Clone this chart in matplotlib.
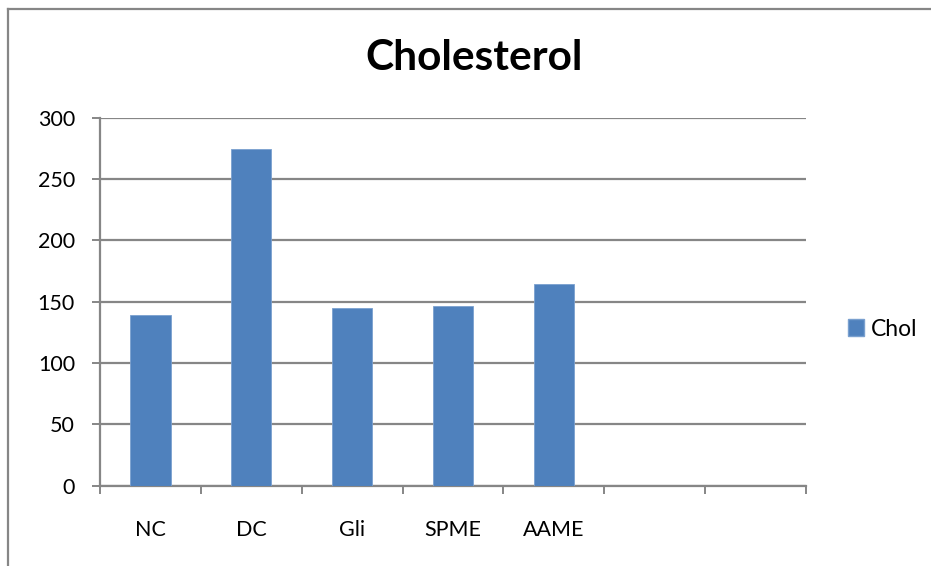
import matplotlib.pyplot as plt
from matplotlib.lines import Line2D
from matplotlib.patches import Patch

# cholesterol per group
categories = ['NC', 'DC', 'Gli', 'SPME', 'AAME', '', '']
chol = [139.2, 274.2, 144.6, 146.2, 164.7]
yticks = [0, 50, 100, 150, 200, 250, 300]

bar_color = '#4F81BD'
grid_color = '#868686'

plt.rcParams['font.family'] = ['Lato', 'DejaVu Sans']

fig = plt.figure(figsize=(9.31, 5.66), dpi=100)
ax = fig.add_axes([100 / 931, 1 - 485.7 / 566, 706 / 931, 368 / 566])

pos = list(range(len(categories)))
ax.bar(pos[:len(chol)], chol, width=0.4, color=bar_color,
       edgecolor='#7aa0cf', linewidth=0.6, zorder=3, label='Chol')

ax.set_xlim(-0.5, len(categories) - 0.5)
ax.set_ylim(0, 300)
ax.set_yticks(yticks)
ax.yaxis.grid(True, color=grid_color, linewidth=1.6)
ax.set_axisbelow(True)

# labels centred in each slot, tick marks on slot boundaries
ax.set_xticks(pos)
ax.set_xticklabels(categories, fontsize=15.5)
ax.set_xticks([p - 0.5 for p in pos] + [len(categories) - 0.5], minor=True)
ax.tick_params(axis='x', which='major', length=0, pad=25)
ax.tick_params(axis='x', which='minor', length=6, width=1.4, color=grid_color, direction='out')
ax.tick_params(axis='y', length=6, width=1.4, color=grid_color, direction='out',
               labelsize=15.5, pad=12)

for s in ['top', 'right']:
    ax.spines[s].set_visible(False)
for s in ['left', 'bottom']:
    ax.spines[s].set_color(grid_color)
    ax.spines[s].set_linewidth(1.6)

fig.text(474 / 931, 1 - 58 / 566, 'Cholesterol', ha='center', va='center',
         fontsize=30.5, fontweight='bold')

handle = Patch(facecolor=bar_color, edgecolor='#7aa0cf')
fig.legend([handle], ['Chol'], loc='center left',
           bbox_to_anchor=(827 / 931, 1 - 329 / 566), frameon=False,
           fontsize=16.5, handlelength=0.7, handleheight=0.7, handletextpad=0.3)

# chart area border
fig.add_artist(Line2D([7.5 / 931, 7.5 / 931], [0, 1 - 8.5 / 566],
                      color=grid_color, linewidth=1.6, transform=fig.transFigure))
fig.add_artist(Line2D([7.5 / 931, 1], [1 - 8.5 / 566, 1 - 8.5 / 566],
                      color=grid_color, linewidth=1.6, transform=fig.transFigure))

fig.savefig('out.png', dpi=100, facecolor='white')
